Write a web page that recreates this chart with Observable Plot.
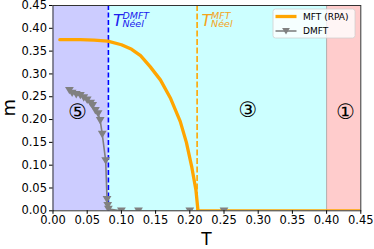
<!DOCTYPE html>
<html><head><meta charset="utf-8">
<script src="https://cdn.jsdelivr.net/npm/d3@7"></script>
<script src="https://cdn.jsdelivr.net/npm/@observablehq/plot@0.6"></script>
<style>body{margin:0;background:#fff;} #chart{position:relative;width:374px;height:249px;}</style>
</head><body><div id="chart"></div>
<script>
// MFT (RPA) magnetization curve
const mftT = [0.010, 0.040, 0.060, 0.080, 0.100, 0.115, 0.128, 0.142, 0.157, 0.172, 0.186, 0.195, 0.203, 0.209, 0.212, 0.450];
const mftM = [0.375, 0.375, 0.374, 0.372, 0.364, 0.354, 0.340, 0.316, 0.287, 0.246, 0.196, 0.150, 0.095, 0.045, 0.000, 0.000];
// DMFT magnetization
const dmftT = [0.024, 0.028, 0.034, 0.040, 0.045, 0.050, 0.055, 0.058, 0.062, 0.066, 0.069, 0.072, 0.077, 0.079, 0.080, 0.081, 0.100, 0.125, 0.200, 0.250];
const dmftM = [0.264, 0.258, 0.255, 0.253, 0.248, 0.243, 0.236, 0.231, 0.220, 0.213, 0.198, 0.168, 0.110, 0.025, 0.012, 0.004, 0.000, 0.000, 0.000, 0.000];
// Phase regions
const regionStart = [0.000, 0.081, 0.400];
const regionEnd   = [0.081, 0.400, 0.450];
const regionFill  = ["#ccccff", "#ccffff", "#ffcccc"];
const regionLabel  = ["⑤", "③", "①"];
const regionLabelT = [0.036, 0.285, 0.428];
const regionLabelM = [0.216, 0.220, 0.216];
// Néel temperatures
const neelT = [0.081, 0.2107];
const neelMethod = ["DMFT", "MFT"];
const neelColor = ["#2020ee", "#f5a31a"];
// ticks
const tickValues = [0, 0.05, 0.10, 0.15, 0.20, 0.25, 0.30, 0.35, 0.40, 0.45];

const mft = mftT.map((t, i) => ({t, m: mftM[i]}));
const dmft = dmftT.map((t, i) => ({t, m: dmftM[i]}));
const regions = regionStart.map((s, i) => ({x1: s, x2: regionEnd[i], fill: regionFill[i]}));
const labels = regionLabel.map((l, i) => ({l, t: regionLabelT[i], m: regionLabelM[i]}));

const triDown = {
  draw(ctx, size) {
    const h = Math.sqrt(size);
    ctx.moveTo(-h * 0.55, -h * 0.42);
    ctx.lineTo(h * 0.55, -h * 0.42);
    ctx.lineTo(0, h * 0.5);
    ctx.closePath();
  }
};

const plot = Plot.plot({
  width: 374, height: 249,
  marginLeft: 52.5, marginRight: 13.7, marginTop: 5, marginBottom: 38.7,
  style: {fontFamily: "DejaVu Sans", fontSize: "11.5px", color: "#000", background: "#fff", overflow: "visible"},
  x: {domain: [0, 0.45], label: null},
  y: {domain: [0, 0.45], label: null},
  marks: [
    ...regions.map(r => Plot.rect([r], {x1: "x1", x2: "x2", y1: 0, y2: 0.45, fill: r.fill})),
    Plot.ruleX([regionStart[2]], {stroke: "#b0b0b0", strokeWidth: 1}),
    Plot.ruleX([neelT[0]], {stroke: "#0000ff", strokeWidth: 1.6, strokeDasharray: "5,2.5"}),
    Plot.ruleX([neelT[1]], {stroke: "#ffa500", strokeWidth: 1.6, strokeDasharray: "6,2.5"}),
    Plot.line(mft, {x: "t", y: "m", stroke: "#ffa500", strokeWidth: 3.3, clip: true}),
    Plot.line(dmft, {x: "t", y: "m", stroke: "#808080", strokeWidth: 1.6, clip: true}),
    Plot.dot(dmft, {x: "t", y: "m", symbol: triDown, r: 4.5, fill: "#808080", stroke: "none", clip: true}),
    Plot.text(labels, {x: "t", y: "m", text: "l", fontSize: 21, fill: "#000", fontFamily: "DejaVu Sans, Noto Sans CJK JP"}),
    Plot.frame({stroke: "#333", strokeWidth: 1}),
    Plot.axisX({ticks: tickValues, tickFormat: ".2f", tickSize: 3.5, tickPadding: 2, label: null}),
    Plot.axisY({ticks: tickValues, tickFormat: ".2f", tickSize: 3.5, tickPadding: 2.5, label: null})
  ]
});

document.getElementById("chart").appendChild(plot);

const svg = d3.select(plot);
const xs = plot.scale("x"), ys = plot.scale("y");

// Néel temperature labels
neelT.forEach((t, i) => {
  const x0 = xs.apply(t) + 5;
  const yb = ys.apply(0.405);
  const g = svg.append("g").attr("fill", neelColor[i]).attr("font-family", "DejaVu Sans")
    .attr("font-style", "italic").attr("text-anchor", "start");
  g.append("text").attr("x", x0).attr("y", yb).attr("font-size", 16).text("T");
  g.append("text").attr("x", x0 + 9.5).attr("y", yb - 6.5).attr("font-size", 9.5).text(neelMethod[i]);
  g.append("text").attr("x", x0 + 9.5).attr("y", yb + 1.5).attr("font-size", 9.5).text("Néel");
});

// axis labels
svg.append("text").attr("x", (xs.range[0] + xs.range[1]) / 2).attr("y", 245)
  .attr("text-anchor", "middle").attr("font-size", 17).attr("font-family", "DejaVu Sans").text("T");
svg.append("text").attr("transform", `translate(15,${(ys.range[0] + ys.range[1]) / 2}) rotate(-90)`)
  .attr("text-anchor", "middle").attr("font-size", 18).attr("font-family", "DejaVu Sans").text("m");

// legend
const lg = svg.append("g").attr("transform", "translate(273,9)").attr("font-family", "DejaVu Sans")
  .attr("font-size", 9).attr("text-anchor", "start");
lg.append("rect").attr("width", 82).attr("height", 29).attr("rx", 2.5)
  .attr("fill", "#fff").attr("fill-opacity", 0.8).attr("stroke", "#d0d0d0").attr("stroke-width", 0.8);
lg.append("line").attr("x1", 2.5).attr("x2", 23.5).attr("y1", 7.5).attr("y2", 7.5).attr("stroke", "#ffa500").attr("stroke-width", 3.3);
lg.append("text").attr("x", 30).attr("y", 7.5).attr("dy", "0.35em").text("MFT (RPA)");
lg.append("line").attr("x1", 2.5).attr("x2", 23.5).attr("y1", 22).attr("y2", 22).attr("stroke", "#808080").attr("stroke-width", 1.6);
lg.append("path").attr("transform", "translate(13,22)").attr("fill", "#808080").attr("d", d3.symbol(triDown, 50)());
lg.append("text").attr("x", 30).attr("y", 22).attr("dy", "0.35em").text("DMFT");
</script></body></html>
